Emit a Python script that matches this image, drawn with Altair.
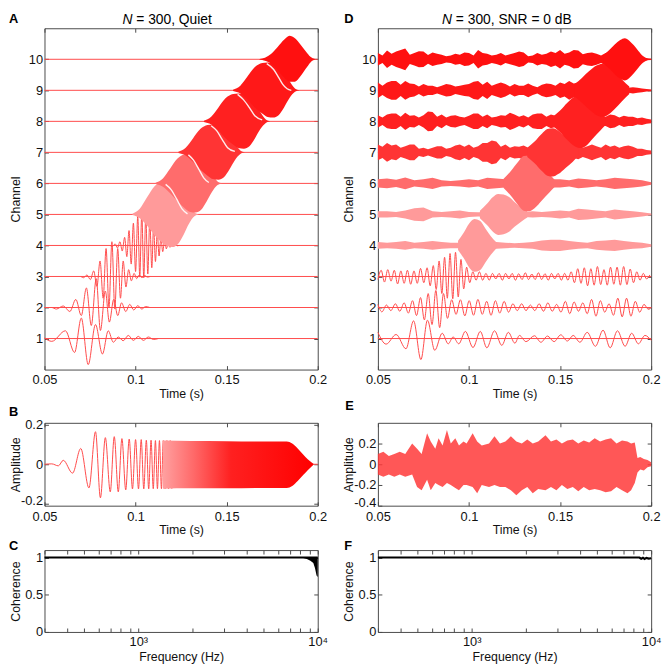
import altair as alt
import pandas as pd

FONT = "Liberation Sans"
FRAME = "#4a4a4a"
RED_LINE = "#ff4a4a"

# ------------------------------------------------------------------ ticks
CHANNELS = [1, 2, 3, 4, 5, 6, 7, 8, 9, 10]
TIME_TICKS = [0.05, 0.1, 0.15, 0.2]
FREQ_TICKS = [300, 400, 500, 600, 700, 800, 900, 1000, 2000, 3000, 4000,
              5000, 6000, 7000, 8000, 9000, 10000]
AMP_B_TICKS = [-0.2, 0, 0.2]
AMP_E_TICKS = [-0.4, -0.2, 0, 0.2]
COH_TICKS = [0, 0.5, 1]

# ------------------------------------------------------------------ panel A (quiet)
# resolved channels: extrema (time s, deviation from channel baseline)
A1_T = [0.0500, 0.0540, 0.0615, 0.0665, 0.0702, 0.0740, 0.0780, 0.0818, 0.0850, 0.0878,
        0.0905, 0.0932, 0.0960, 0.0988, 0.1015, 0.1043, 0.1070, 0.1098, 0.1125]
A1_V = [0.02, -0.09, 0.25, -0.45, 0.66, -0.84, 0.45, -0.50, 0.25, -0.12,
        0.05, -0.07, 0.10, -0.06, 0.07, -0.06, 0.05, -0.03, 0.00]
A2_T = [0.0500, 0.0540, 0.0565, 0.0603, 0.0639, 0.0672, 0.0702, 0.0730, 0.0757, 0.0784,
        0.0807, 0.0834, 0.0856, 0.0880, 0.0902, 0.0923, 0.0946, 0.0968, 0.0990, 0.1012,
        0.1034, 0.1055, 0.1078]
A2_V = [0.00, 0.00, -0.05, 0.05, -0.13, 0.26, -0.26, 0.63, -0.58, 0.93,
        -0.74, 0.53, -0.47, 0.26, -0.26, 0.15, -0.13, 0.10, -0.08, 0.06,
        -0.05, 0.03, 0.00]
A3_T = [0.0700, 0.0715, 0.0733, 0.0752, 0.0770, 0.0788, 0.0805, 0.0822, 0.0838, 0.0854,
        0.0870, 0.0886, 0.0902, 0.0917, 0.0932, 0.0947, 0.0962, 0.0977, 0.0992, 0.1006,
        0.1020, 0.1035, 0.1050, 0.1065, 0.1080]
A3_V = [0.00, -0.04, 0.05, -0.10, 0.18, -0.32, 0.50, -0.70, 0.90, -1.00,
        1.12, -1.05, 0.90, -0.70, 0.50, -0.34, 0.22, -0.14, 0.10, -0.07,
        0.05, -0.04, 0.03, -0.02, 0.00]
A4_T = [0.0860, 0.0874, 0.0888, 0.0901, 0.0914, 0.0927, 0.0940, 0.0952, 0.0964, 0.0976,
        0.0988, 0.1000, 0.1012, 0.1023, 0.1034, 0.1045, 0.1056, 0.1067, 0.1078, 0.1089,
        0.1099, 0.1109, 0.1119, 0.1129, 0.1139, 0.1149, 0.1159, 0.1169, 0.1179, 0.1189,
        0.1199, 0.1209, 0.1219, 0.1229, 0.1239]
A4_V = [0.00, -0.03, 0.05, -0.08, 0.12, -0.18, 0.26, -0.36, 0.48, -0.60,
        0.72, -0.84, 0.95, -1.02, 1.05, -1.04, 0.98, -0.92, 0.82, -0.72,
        0.62, -0.52, 0.42, -0.34, 0.26, -0.20, 0.15, -0.11, 0.08, -0.06,
        0.04, -0.03, 0.02, -0.01, 0.00]
# dense channels: envelope above (HI) and below (LO) the channel baseline
A5_T = [0.0983, 0.1023, 0.1063, 0.1103, 0.1143, 0.1173, 0.1203, 0.1233, 0.1263, 0.1293, 0.1323, 0.1348]
A5_HI = [0.02, 0.18, 0.55, 0.90, 1.07, 1.10, 1.05, 0.95, 0.72, 0.36, 0.07, 0.00]
A5_LO = [0.02, 0.12, 0.36, 0.66, 0.90, 1.02, 1.05, 0.95, 0.66, 0.30, 0.06, 0.00]
A6_T = [0.1110, 0.1150, 0.1190, 0.1230, 0.1270, 0.1300, 0.1330, 0.1360, 0.1390, 0.1420, 0.1450, 0.1475]
A6_HI = [0.02, 0.16, 0.48, 0.80, 0.94, 0.96, 0.94, 0.85, 0.64, 0.32, 0.06, 0.00]
A6_LO = [0.02, 0.11, 0.32, 0.58, 0.80, 0.92, 0.94, 0.85, 0.58, 0.27, 0.05, 0.00]
A7_T = [0.1235, 0.1275, 0.1315, 0.1355, 0.1395, 0.1425, 0.1455, 0.1485, 0.1515, 0.1545, 0.1575, 0.1600]
A7_HI = [0.02, 0.15, 0.45, 0.75, 0.88, 0.90, 0.88, 0.80, 0.60, 0.30, 0.06, 0.00]
A7_LO = [0.02, 0.10, 0.30, 0.55, 0.75, 0.86, 0.88, 0.80, 0.55, 0.25, 0.05, 0.00]
A8_T = [0.1375, 0.1415, 0.1455, 0.1495, 0.1535, 0.1565, 0.1595, 0.1625, 0.1655, 0.1685, 0.1715, 0.1740]
A8_HI = [0.02, 0.15, 0.45, 0.75, 0.88, 0.90, 0.88, 0.80, 0.60, 0.30, 0.06, 0.00]
A8_LO = [0.02, 0.10, 0.30, 0.55, 0.75, 0.86, 0.88, 0.80, 0.55, 0.25, 0.05, 0.00]
A9_T = [0.1535, 0.1575, 0.1615, 0.1655, 0.1695, 0.1725, 0.1755, 0.1785, 0.1815, 0.1845, 0.1875, 0.1900]
A9_HI = [0.02, 0.15, 0.45, 0.75, 0.88, 0.90, 0.88, 0.80, 0.60, 0.30, 0.06, 0.00]
A9_LO = [0.02, 0.10, 0.30, 0.55, 0.75, 0.86, 0.88, 0.80, 0.55, 0.25, 0.05, 0.00]
A10_T = [0.1680, 0.1710, 0.1745, 0.1780, 0.1815, 0.1845, 0.1875, 0.1905, 0.1935, 0.1960, 0.1985]
A10_HI = [0.01, 0.05, 0.18, 0.40, 0.63, 0.76, 0.68, 0.48, 0.25, 0.08, 0.01]
A10_LO = [0.01, 0.05, 0.15, 0.35, 0.58, 0.72, 0.72, 0.55, 0.30, 0.10, 0.01]
A_BAND_COLORS = ["#ff9a9a", "#ff6c6c", "#ff3434", "#ff2020", "#ff1818", "#ff1010"]
# light moire curves running through the dense packets
W5_T = [0.1165, 0.1195, 0.1225, 0.1255, 0.1285]
W5_Y = [5.97, 5.80, 5.50, 5.18, 5.02]
W6_T = [0.1290, 0.1318, 0.1346, 0.1374, 0.1402]
W6_Y = [6.92, 6.75, 6.47, 6.18, 6.03]
W7_T = [0.1415, 0.1445, 0.1475, 0.1505, 0.1545]
W7_Y = [7.86, 7.70, 7.42, 7.15, 7.03]
W8_T = [0.1560, 0.1592, 0.1624, 0.1656, 0.1695]
W8_Y = [8.87, 8.70, 8.45, 8.17, 8.05]
W9_T = [0.1720, 0.1758, 0.1786, 0.1807, 0.1832, 0.1855]
W9_Y = [9.86, 9.67, 9.41, 9.20, 9.05, 9.00]

# ------------------------------------------------------------------ panel B (quiet sum)
B_T = [0.0500, 0.0540, 0.0576, 0.0603, 0.0654, 0.0699, 0.0744, 0.0780, 0.0807, 0.0834,
       0.0861, 0.0883, 0.0905, 0.0925, 0.0946, 0.0965, 0.0983, 0.1000, 0.1016, 0.1031,
       0.1045, 0.1059, 0.1072, 0.1085, 0.1097, 0.1109, 0.1120, 0.1131, 0.1142, 0.1152,
       0.1162, 0.1172, 0.1181, 0.1190, 0.1199]
B_V = [0.000, 0.002, -0.008, 0.020, -0.045, 0.080, -0.120, 0.165, -0.170, 0.135,
       -0.140, 0.140, -0.140, 0.130, -0.130, 0.128, -0.125, 0.125, -0.125, 0.125,
       -0.125, 0.122, -0.125, 0.122, -0.124, 0.120, -0.124, 0.120, -0.124, 0.120,
       -0.124, 0.120, -0.124, 0.120, -0.124]
B_ENV_T = [0.1150, 0.1300, 0.1500, 0.1700, 0.1830, 0.1860, 0.1890, 0.1920, 0.1945, 0.1965, 0.1980]
B_ENV_HI = [0.120, 0.118, 0.117, 0.115, 0.115, 0.105, 0.080, 0.050, 0.025, 0.010, 0.000]
B_ENV_LO = [-0.124, -0.122, -0.122, -0.120, -0.120, -0.110, -0.085, -0.055, -0.030, -0.012, 0.000]
B_TAIL_T = [0.1975, 0.2000]
B_TAIL_V = [0.0, 0.0]

# ------------------------------------------------------------------ panel C (coherence quiet)
C_LINE_F = [300, 10000]
C_LINE_V = [1.0, 1.0]
C_DROP_F = [8300, 8700, 9100, 9450, 9650, 9850, 10000]
C_DROP_LO = [0.995, 0.98, 0.955, 0.925, 0.86, 0.76, 0.74]
C_DROP_HI = [1.005, 1.005, 1.005, 1.005, 1.005, 1.005, 1.005]

# ------------------------------------------------------------------ panel D (SNR 0 dB)
D1_T = [0.0500, 0.0545, 0.0600, 0.0654, 0.0696, 0.0736, 0.0772, 0.0812, 0.0853, 0.0886,
        0.0913, 0.0944, 0.0980, 0.1022, 0.1062, 0.1098, 0.1140, 0.1180, 0.1216, 0.1252,
        0.1277, 0.1313, 0.1359, 0.1395, 0.1431, 0.1467, 0.1504, 0.1540, 0.1572, 0.1609,
        0.1649, 0.1694, 0.1736, 0.1775, 0.1815, 0.1857, 0.1893, 0.1930, 0.1966, 0.2000]
D1_V = [0.20, -0.18, 0.13, -0.33, 0.57, -0.68, 0.59, -0.38, 0.17, -0.17,
        0.05, -0.17, 0.23, -0.29, 0.23, -0.30, 0.25, -0.22, 0.20, -0.15,
        0.10, -0.10, 0.09, -0.12, 0.08, -0.10, 0.12, -0.08, 0.10, -0.12,
        0.20, -0.25, 0.27, -0.30, 0.25, -0.25, 0.17, -0.17, 0.10, -0.06]
D2_T = [0.0500, 0.0522, 0.0547, 0.0571, 0.0596, 0.0620, 0.0644, 0.0667, 0.0690, 0.0712,
        0.0734, 0.0755, 0.0776, 0.0797, 0.0818, 0.0839, 0.0860, 0.0882, 0.0905, 0.0929,
        0.0953, 0.0977, 0.1001, 0.1025, 0.1049, 0.1073, 0.1097, 0.1121, 0.1145, 0.1169,
        0.1193, 0.1217, 0.1241, 0.1265, 0.1289, 0.1313, 0.1337, 0.1361, 0.1385, 0.1409,
        0.1433, 0.1457, 0.1481, 0.1505, 0.1529, 0.1553, 0.1577, 0.1601, 0.1625, 0.1649,
        0.1673, 0.1697, 0.1721, 0.1745, 0.1769, 0.1793, 0.1817, 0.1841, 0.1865, 0.1889,
        0.1913, 0.1937, 0.1961, 0.1985, 0.2000]
D2_V = [0.10, -0.14, 0.08, -0.10, 0.12, -0.12, 0.15, -0.18, 0.22, -0.26,
        0.32, -0.40, 0.45, -0.55, 0.55, -0.65, 0.45, -0.35, 0.25, -0.22,
        0.25, -0.27, 0.22, -0.25, 0.26, -0.22, 0.20, -0.25, 0.22, -0.18,
        0.20, -0.15, 0.12, -0.10, 0.12, -0.10, 0.08, -0.10, 0.12, -0.12,
        0.15, -0.12, 0.10, -0.15, 0.20, -0.20, 0.18, -0.12, 0.15, -0.20,
        0.26, -0.28, 0.22, -0.15, 0.12, -0.25, 0.30, -0.30, 0.30, -0.28,
        0.20, -0.15, 0.10, -0.06, 0.00]
D3_T = [0.0500, 0.0518, 0.0536, 0.0554, 0.0572, 0.0590, 0.0608, 0.0626, 0.0644, 0.0662,
        0.0680, 0.0698, 0.0716, 0.0734, 0.0752, 0.0770, 0.0787, 0.0804, 0.0820, 0.0836,
        0.0851, 0.0866, 0.0881, 0.0896, 0.0911, 0.0926, 0.0941, 0.0956, 0.0971, 0.0987,
        0.1004, 0.1021, 0.1039, 0.1057, 0.1075, 0.1093, 0.1111, 0.1129, 0.1147, 0.1165,
        0.1183, 0.1201, 0.1219, 0.1237, 0.1255, 0.1273, 0.1291, 0.1309, 0.1327, 0.1345,
        0.1363, 0.1381, 0.1399, 0.1417, 0.1435, 0.1453, 0.1471, 0.1489, 0.1507, 0.1525,
        0.1543, 0.1561, 0.1579, 0.1597, 0.1615, 0.1633, 0.1651, 0.1669, 0.1687, 0.1705,
        0.1723, 0.1741, 0.1759, 0.1777, 0.1795, 0.1813, 0.1831, 0.1849, 0.1867, 0.1885,
        0.1903, 0.1921, 0.1939, 0.1957, 0.1975, 0.1993]
D3_V = [-0.10, 0.20, -0.18, 0.22, -0.15, 0.20, -0.24, 0.18, -0.22, 0.20,
        -0.25, 0.18, -0.22, 0.26, -0.20, 0.28, -0.30, 0.35, -0.42, 0.50,
        -0.55, 0.62, -0.70, 0.74, -0.72, 0.78, -0.66, 0.55, -0.40, 0.30,
        -0.20, 0.15, -0.12, 0.15, -0.12, 0.10, -0.12, 0.10, -0.08, 0.10,
        -0.12, 0.10, -0.08, 0.10, -0.12, 0.09, -0.10, 0.12, -0.10, 0.08,
        -0.10, 0.12, -0.10, 0.09, -0.12, 0.10, -0.08, 0.10, -0.12, 0.10,
        -0.12, 0.15, -0.20, 0.25, -0.22, 0.28, -0.30, 0.25, -0.28, 0.32,
        -0.26, 0.22, -0.28, 0.30, -0.25, 0.30, -0.28, 0.32, -0.26, 0.24,
        -0.20, 0.15, -0.12, 0.10, -0.08, 0.05]
# noise envelope (half-height) of channels 4-6, read every 5 ms
NOISE_T = [0.050, 0.055, 0.060, 0.065, 0.070, 0.075, 0.080, 0.085, 0.090, 0.095,
           0.100, 0.105, 0.110, 0.115, 0.120, 0.125, 0.130, 0.135, 0.140, 0.145,
           0.150, 0.155, 0.160, 0.165, 0.170, 0.175, 0.180, 0.185, 0.190, 0.195, 0.200]
D4_NOISE = [0.11, 0.09, 0.11, 0.14, 0.09, 0.11, 0.14, 0.11, 0.09, 0.09,
            0.09, 0.09, 0.09, 0.11, 0.09, 0.07, 0.09, 0.11, 0.16, 0.18,
            0.18, 0.14, 0.11, 0.09, 0.14, 0.16, 0.18, 0.14, 0.11, 0.09, 0.04]
D5_NOISE = [0.10, 0.10, 0.08, 0.13, 0.20, 0.22, 0.10, 0.08, 0.10, 0.13,
            0.08, 0.07, 0.08, 0.08, 0.08, 0.08, 0.08, 0.10, 0.08, 0.10,
            0.13, 0.10, 0.18, 0.16, 0.13, 0.10, 0.16, 0.13, 0.10, 0.07, 0.03]
D6_NOISE = [0.13, 0.16, 0.12, 0.19, 0.10, 0.13, 0.18, 0.10, 0.08, 0.10,
            0.13, 0.10, 0.18, 0.16, 0.13, 0.16, 0.13, 0.13, 0.13, 0.13,
            0.13, 0.10, 0.16, 0.13, 0.10, 0.13, 0.18, 0.16, 0.13, 0.10, 0.04]
# noise envelope of channels 7-10, read every 2.5 ms
NOISE2_T = [0.0500, 0.0525, 0.0550, 0.0575, 0.0600, 0.0625, 0.0650, 0.0675, 0.0700, 0.0725,
            0.0750, 0.0775, 0.0800, 0.0825, 0.0850, 0.0875, 0.0900, 0.0925, 0.0950, 0.0975,
            0.1000, 0.1025, 0.1050, 0.1075, 0.1100, 0.1125, 0.1150, 0.1175, 0.1200, 0.1225,
            0.1250, 0.1275, 0.1300, 0.1325, 0.1350, 0.1375, 0.1400, 0.1425, 0.1450, 0.1475,
            0.1500, 0.1525, 0.1550, 0.1575, 0.1600, 0.1625, 0.1650, 0.1675, 0.1700, 0.1725,
            0.1750, 0.1775, 0.1800, 0.1825, 0.1850, 0.1875, 0.1900, 0.1925, 0.1950, 0.1975,
            0.2000]
D7_NOISE = [0.25, 0.18, 0.30, 0.22, 0.25, 0.15, 0.20, 0.25, 0.25, 0.12,
            0.15, 0.10, 0.15, 0.20, 0.20, 0.12, 0.15, 0.22, 0.25, 0.18,
            0.25, 0.15, 0.20, 0.30, 0.30, 0.38, 0.35, 0.18, 0.25, 0.15,
            0.20, 0.18, 0.22, 0.15, 0.25, 0.20, 0.15, 0.12, 0.15, 0.20,
            0.20, 0.35, 0.30, 0.18, 0.22, 0.15, 0.20, 0.25, 0.20, 0.15,
            0.25, 0.18, 0.22, 0.15, 0.20, 0.22, 0.18, 0.12, 0.12, 0.08,
            0.06]
D8_NOISE = [0.20, 0.12, 0.22, 0.25, 0.25, 0.15, 0.28, 0.18, 0.20, 0.12,
            0.20, 0.32, 0.30, 0.15, 0.22, 0.12, 0.18, 0.20, 0.15, 0.12,
            0.18, 0.25, 0.25, 0.15, 0.22, 0.12, 0.15, 0.20, 0.18, 0.28,
            0.22, 0.15, 0.20, 0.12, 0.22, 0.25, 0.25, 0.15, 0.22, 0.18,
            0.20, 0.15, 0.20, 0.18, 0.20, 0.25, 0.20, 0.12, 0.18, 0.15,
            0.15, 0.22, 0.20, 0.12, 0.18, 0.15, 0.15, 0.10, 0.12, 0.08,
            0.06]
D9_NOISE = [0.25, 0.15, 0.25, 0.30, 0.30, 0.18, 0.30, 0.22, 0.20, 0.12,
            0.20, 0.15, 0.15, 0.10, 0.15, 0.20, 0.18, 0.12, 0.15, 0.18,
            0.20, 0.28, 0.30, 0.18, 0.28, 0.15, 0.20, 0.25, 0.20, 0.12,
            0.20, 0.15, 0.15, 0.22, 0.15, 0.10, 0.18, 0.22, 0.20, 0.15,
            0.25, 0.20, 0.30, 0.22, 0.25, 0.15, 0.20, 0.15, 0.20, 0.15,
            0.20, 0.15, 0.20, 0.12, 0.20, 0.08, 0.10, 0.08, 0.06, 0.04,
            0.03]
D10_NOISE = [0.20, 0.12, 0.28, 0.18, 0.25, 0.30, 0.35, 0.15, 0.20, 0.26,
             0.25, 0.14, 0.22, 0.18, 0.15, 0.10, 0.12, 0.18, 0.15, 0.22,
             0.20, 0.12, 0.30, 0.20, 0.18, 0.12, 0.15, 0.20, 0.12, 0.16,
             0.20, 0.25, 0.22, 0.10, 0.12, 0.20, 0.15, 0.18, 0.25, 0.20,
             0.30, 0.18, 0.22, 0.30, 0.28, 0.16, 0.20, 0.22, 0.18, 0.12,
             0.20, 0.25, 0.20, 0.15, 0.15, 0.08, 0.10, 0.06, 0.05, 0.03,
             0.02]
# chirp packets in the noisy channels (time s, half-height)
D4_PK_T = [0.0940, 0.0970, 0.1000, 0.1030, 0.1060, 0.1090, 0.1120, 0.1150]
D4_PK_A = [0.15, 0.40, 0.70, 0.85, 0.80, 0.55, 0.30, 0.10]
D5_PK_T = [0.1060, 0.1100, 0.1130, 0.1160, 0.1190, 0.1220, 0.1250, 0.1290, 0.1320]
D5_PK_A = [0.12, 0.35, 0.55, 0.66, 0.64, 0.56, 0.40, 0.22, 0.10]
D6_PK_T = [0.1190, 0.1230, 0.1270, 0.1300, 0.1330, 0.1360, 0.1400, 0.1440, 0.1470]
D6_PK_A = [0.15, 0.40, 0.70, 0.88, 0.90, 0.80, 0.55, 0.30, 0.12]
D7_PK_T = [0.1320, 0.1360, 0.1400, 0.1430, 0.1460, 0.1490, 0.1530, 0.1570, 0.1600]
D7_PK_A = [0.15, 0.35, 0.60, 0.75, 0.78, 0.70, 0.50, 0.30, 0.12]
D8_PK_T = [0.1460, 0.1500, 0.1540, 0.1580, 0.1610, 0.1640, 0.1680, 0.1720, 0.1750]
D8_PK_A = [0.15, 0.35, 0.60, 0.80, 0.86, 0.80, 0.55, 0.30, 0.12]
D9_PK_T = [0.1580, 0.1620, 0.1660, 0.1700, 0.1730, 0.1760, 0.1800, 0.1840, 0.1880]
D9_PK_A = [0.20, 0.40, 0.62, 0.80, 0.85, 0.80, 0.60, 0.35, 0.12]
D10_PK_T = [0.1740, 0.1770, 0.1800, 0.1830, 0.1855, 0.1880, 0.1905, 0.1930, 0.1955, 0.1980]
D10_PK_A = [0.15, 0.30, 0.48, 0.62, 0.68, 0.60, 0.45, 0.27, 0.11, 0.03]
D_BAND_COLORS = ["#ffb0b0", "#ff9c9c", "#ff7070", "#ff2c2c", "#ff2424", "#ff2020", "#ff1c1c"]

# ------------------------------------------------------------------ panel E (noisy sum)
E_T = [0.0500, 0.0530, 0.0560, 0.0590, 0.0620, 0.0650, 0.0688, 0.0715, 0.0740, 0.0770,
       0.0790, 0.0815, 0.0833, 0.0855, 0.0879, 0.0900, 0.0925, 0.0945, 0.0970, 0.0987,
       0.1020, 0.1045, 0.1070, 0.1110, 0.1140, 0.1170, 0.1200, 0.1230, 0.1260, 0.1290,
       0.1320, 0.1350, 0.1380, 0.1420, 0.1450, 0.1480, 0.1510, 0.1540, 0.1570, 0.1600,
       0.1630, 0.1660, 0.1690, 0.1720, 0.1750, 0.1780, 0.1810, 0.1840, 0.1870, 0.1890,
       0.1910, 0.1925, 0.1940, 0.1960, 0.1980, 0.2000]
E_HI = [0.10, 0.12, 0.08, 0.10, 0.12, 0.10, 0.20, 0.15, 0.10, 0.30,
        0.22, 0.15, 0.25, 0.18, 0.33, 0.20, 0.25, 0.18, 0.22, 0.20,
        0.30, 0.22, 0.18, 0.20, 0.27, 0.20, 0.22, 0.27, 0.22, 0.20,
        0.24, 0.20, 0.22, 0.28, 0.22, 0.24, 0.20, 0.23, 0.24, 0.20,
        0.23, 0.21, 0.25, 0.22, 0.24, 0.25, 0.20, 0.23, 0.22, 0.20,
        0.21, 0.06, 0.07, 0.05, 0.04, 0.02]
E_LO = [-0.10, -0.12, -0.10, -0.12, -0.10, -0.12, -0.10, -0.22, -0.25, -0.15,
        -0.25, -0.18, -0.20, -0.22, -0.18, -0.20, -0.23, -0.25, -0.20, -0.20,
        -0.22, -0.28, -0.20, -0.22, -0.20, -0.22, -0.22, -0.25, -0.30, -0.25,
        -0.22, -0.28, -0.24, -0.25, -0.22, -0.25, -0.20, -0.24, -0.22, -0.26,
        -0.22, -0.25, -0.24, -0.25, -0.27, -0.26, -0.22, -0.25, -0.28, -0.25,
        -0.18, -0.08, -0.05, -0.06, -0.03, -0.02]

# ------------------------------------------------------------------ panel F (coherence noisy)
F_F = [300, 8600, 8800, 9000, 9200, 9400, 9700, 10000]
F_V = [1.0, 1.0, 0.985, 0.997, 0.982, 0.995, 0.985, 0.99]


# ------------------------------------------------------------------ tables
def lines_frame(series):
    rows = []
    for ch, T, V in series:
        for t, v in zip(T, V):
            rows.append({"ch": ch, "t": t, "y": ch + v})
    return pd.DataFrame(rows)


def band_frame(series):
    rows = []
    for ch, T, HI, LO in series:
        for t, hi, lo in zip(T, HI, LO):
            rows.append({"ch": ch, "t": t, "lo": ch - lo, "hi": ch + hi})
    return pd.DataFrame(rows)


def curve_frame(series):
    rows = []
    for ch, T, Y in series:
        for t, y in zip(T, Y):
            rows.append({"ch": ch, "t": t, "y": y})
    return pd.DataFrame(rows)


A_LINES = lines_frame([(1, A1_T, A1_V), (2, A2_T, A2_V), (3, A3_T, A3_V), (4, A4_T, A4_V)])
A_BANDS = band_frame([(5, A5_T, A5_HI, A5_LO), (6, A6_T, A6_HI, A6_LO),
                      (7, A7_T, A7_HI, A7_LO), (8, A8_T, A8_HI, A8_LO),
                      (9, A9_T, A9_HI, A9_LO), (10, A10_T, A10_HI, A10_LO)])
A_WHITE = curve_frame([(5, W5_T, W5_Y), (6, W6_T, W6_Y), (7, W7_T, W7_Y),
                       (8, W8_T, W8_Y), (9, W9_T, W9_Y)])
D_LINES = lines_frame([(1, D1_T, D1_V), (2, D2_T, D2_V), (3, D3_T, D3_V)])
D_NOISE = band_frame([(4, NOISE_T, D4_NOISE, D4_NOISE), (5, NOISE_T, D5_NOISE, D5_NOISE),
                      (6, NOISE_T, D6_NOISE, D6_NOISE), (7, NOISE2_T, D7_NOISE, D7_NOISE),
                      (8, NOISE2_T, D8_NOISE, D8_NOISE), (9, NOISE2_T, D9_NOISE, D9_NOISE),
                      (10, NOISE2_T, D10_NOISE, D10_NOISE)])
D_PACKETS = band_frame([(4, D4_PK_T, D4_PK_A, D4_PK_A), (5, D5_PK_T, D5_PK_A, D5_PK_A),
                        (6, D6_PK_T, D6_PK_A, D6_PK_A), (7, D7_PK_T, D7_PK_A, D7_PK_A),
                        (8, D8_PK_T, D8_PK_A, D8_PK_A), (9, D9_PK_T, D9_PK_A, D9_PK_A),
                        (10, D10_PK_T, D10_PK_A, D10_PK_A)])
BASE = pd.DataFrame({"ch": CHANNELS})

# ------------------------------------------------------------------ helpers
WA, HA = 277, 346
HB, HC = 84, 83
TX = alt.Scale(domain=[0.05, 0.2], nice=False, zero=False)
CHY = alt.Scale(domain=[0, 11], nice=False, zero=False)
BY = alt.Scale(domain=[-0.21, 0.21], nice=False, zero=False)
EY = alt.Scale(domain=[-0.4, 0.4], nice=False, zero=False)
FX = alt.Scale(type="log", domain=[300, 10000], nice=False)
CY = alt.Scale(domain=[0, 1.1], nice=False, zero=False)

MINUS_FIX = "replace(format(datum.value, '.1~f'), '\u2212', '-')"
FREQ_EXPR = "datum.value == 1000 ? '10\u00b3' : (datum.value == 10000 ? '10\u2074' : '')"


def frame(xscale, yscale, xdom, ydom, xvals, yvals, xtitle, ytitle, h,
          xfmt=None, xexpr=None, yfmt=None, yexpr=None, xpad=4, ylow=None):
    df = pd.DataFrame({"fx": list(xdom), "fy": list(ydom)})
    common = dict(domain=False, grid=False, ticks=True, tickSize=4,
                  tickColor=FRAME, tickWidth=1, offset=-4,
                  labelFlush=False, labelOverlap=False)
    bottom = dict(orient="bottom", values=xvals, title=xtitle,
                  labelPadding=xpad, titlePadding=1.5 - (xpad - 4), **common)
    if xfmt:
        bottom["format"] = xfmt
    if xexpr:
        bottom["labelExpr"] = xexpr
    left = dict(orient="left", values=yvals, title=ytitle, labelPadding=2,
                titleX=-33.5, titleY=h / 2, titleAngle=270,
                titleAlign="center", titleBaseline="middle", **common)
    if yfmt:
        left["format"] = yfmt
    if yexpr:
        left["labelExpr"] = yexpr
    if ylow is not None:
        # lift the lowest amplitude label a little so it clears the time labels
        left["labelOffset"] = {"condition": {"test": f"datum.value < {ylow}", "value": -3},
                               "value": 0}
    l1 = alt.Chart(df).mark_point(opacity=0).encode(
        x=alt.X("fx:Q", scale=xscale, axis=alt.Axis(**bottom)),
        y=alt.Y("fy:Q", scale=yscale, axis=alt.Axis(**left)))
    l2 = alt.Chart(df).mark_point(opacity=0).encode(
        x=alt.X("fx:Q", scale=xscale,
                axis=alt.Axis(orient="top", values=xvals, labels=False, title=None, **common)),
        y=alt.Y("fy:Q", scale=yscale,
                axis=alt.Axis(orient="right", values=yvals, labels=False, title=None, **common)))
    return [l1, l2]


def text(txt, x, y, size, weight="normal", style="normal"):
    return alt.Chart(pd.DataFrame({"k": [0]})).mark_text(
        text=txt, align="left", baseline="top", font=FONT, fontSize=size,
        fontWeight=weight, fontStyle=style, color="#000").encode(
        x=alt.value(x), y=alt.value(y))


def xq(field, scale):
    return alt.X(f"{field}:Q", scale=scale, axis=None)


def yq(field, scale):
    return alt.Y(f"{field}:Q", scale=scale, axis=None)


def panel(layers, w, h):
    return alt.layer(*layers).resolve_axis(x="independent", y="independent").properties(
        width=w, height=h)


# ------------------------------------------------------------------ panel A
baseA = alt.Chart(BASE).mark_rule(color=RED_LINE, strokeWidth=1).encode(y=yq("ch", CHY))
bandsA = alt.Chart(A_BANDS).mark_area(interpolate="monotone").encode(
    x=xq("t", TX), y=yq("lo", CHY), y2="hi:Q",
    color=alt.Color("ch:O", scale=alt.Scale(domain=[5, 6, 7, 8, 9, 10], range=A_BAND_COLORS),
                    legend=None))
linesA = alt.Chart(A_LINES).mark_line(interpolate="monotone", color=RED_LINE, strokeWidth=1).encode(
    x=xq("t", TX), y=yq("y", CHY), detail="ch:N")
whiteA = alt.Chart(A_WHITE).mark_line(interpolate="monotone", color="#ffffff", strokeWidth=1.4,
                                      opacity=0.9).encode(
    x=xq("t", TX), y=yq("y", CHY), detail="ch:N")
chartA = panel(frame(TX, CHY, [0.05, 0.2], [0, 11], TIME_TICKS, CHANNELS, "Time (s)", "Channel",
                     HA, xfmt=".2~f", yfmt="d")
               + [baseA, linesA, bandsA, whiteA,
                  text("A", -36, -15, 13, weight="bold"),
                  text("N", 79, -15, 14, style="italic"),
                  text("= 300, Quiet", 93, -15, 14)], WA, HA)

# ------------------------------------------------------------------ panel D
baseD = alt.Chart(BASE).mark_rule(color=RED_LINE, strokeWidth=1).encode(y=yq("ch", CHY))
dcol = alt.Scale(domain=[4, 5, 6, 7, 8, 9, 10], range=D_BAND_COLORS)
noiseD = alt.Chart(D_NOISE).mark_area(interpolate="linear").encode(
    x=xq("t", TX), y=yq("lo", CHY), y2="hi:Q", color=alt.Color("ch:O", scale=dcol, legend=None))
packD = alt.Chart(D_PACKETS).mark_area(interpolate="monotone").encode(
    x=xq("t", TX), y=yq("lo", CHY), y2="hi:Q", color=alt.Color("ch:O", scale=dcol, legend=None))
linesD = alt.Chart(D_LINES).mark_line(interpolate="monotone", color=RED_LINE, strokeWidth=1).encode(
    x=xq("t", TX), y=yq("y", CHY), detail="ch:N")
chartD = panel(frame(TX, CHY, [0.05, 0.2], [0, 11], TIME_TICKS, CHANNELS, "Time (s)", "Channel",
                     HA, xfmt=".2~f", yfmt="d")
               + [baseD, linesD, noiseD, packD,
                  text("D", -34, -15, 13, weight="bold"),
                  text("N", 65, -15, 14, style="italic"),
                  text("= 300, SNR = 0 dB", 79, -15, 14)], WA, HA)

# ------------------------------------------------------------------ panel B
grad = alt.LinearGradient(gradient="linear", x1=0, x2=1, y1=0, y2=0, stops=[
    alt.GradientStop(color="#ffa0a0", offset=0),
    alt.GradientStop(color="#ff6a6a", offset=0.2),
    alt.GradientStop(color="#ff2020", offset=0.45),
    alt.GradientStop(color="#ff0000", offset=1)])
B_LINE = pd.DataFrame({"t": B_T, "v": B_V})
B_ENV = pd.DataFrame({"t": B_ENV_T, "hi": B_ENV_HI, "lo": B_ENV_LO})
B_TAIL = pd.DataFrame({"t": B_TAIL_T, "v": B_TAIL_V})
lineB = alt.Chart(B_LINE).mark_line(interpolate="monotone", color=RED_LINE, strokeWidth=1).encode(
    x=xq("t", TX), y=yq("v", BY))
envB = alt.Chart(B_ENV).mark_area(interpolate="monotone", color=grad).encode(
    x=xq("t", TX), y=yq("lo", BY), y2="hi:Q")
tailB = alt.Chart(B_TAIL).mark_line(color=RED_LINE, strokeWidth=1).encode(
    x=xq("t", TX), y=yq("v", BY))
chartB = panel(frame(TX, BY, [0.05, 0.2], [-0.21, 0.21], TIME_TICKS, AMP_B_TICKS, "Time (s)",
                     "Amplitude", HB, xfmt=".2~f", yexpr=MINUS_FIX, xpad=5, ylow=-0.1)
               + [lineB, envB, tailB, text("B", -36, -17, 13, weight="bold")], WA, HB)

# ------------------------------------------------------------------ panel E
E_ENV = pd.DataFrame({"t": E_T, "hi": E_HI, "lo": E_LO})
envE = alt.Chart(E_ENV).mark_area(interpolate="linear", color="#ff3a3a", opacity=0.85).encode(
    x=xq("t", TX), y=yq("lo", EY), y2="hi:Q")
chartE = panel(frame(TX, EY, [0.05, 0.2], [-0.4, 0.4], TIME_TICKS, AMP_E_TICKS, "Time (s)",
                     "Amplitude", HB, xfmt=".2~f", yexpr=MINUS_FIX, xpad=5, ylow=-0.3)
               + [envE, text("E", -33, -23, 13, weight="bold")], WA, HB)

# ------------------------------------------------------------------ panel C
C_LINE = pd.DataFrame({"f": C_LINE_F, "v": C_LINE_V})
C_DROP = pd.DataFrame({"f": C_DROP_F, "lo": C_DROP_LO, "hi": C_DROP_HI})
lineC = alt.Chart(C_LINE).mark_line(color="#000", strokeWidth=2.2).encode(
    x=xq("f", FX), y=yq("v", CY))
dropC = alt.Chart(C_DROP).mark_area(color="#000").encode(
    x=xq("f", FX), y=yq("lo", CY), y2="hi:Q")
chartC = panel(frame(FX, CY, [300, 10000], [0, 1.1], FREQ_TICKS, COH_TICKS, "Frequency (Hz)",
                     "Coherence", HC, xexpr=FREQ_EXPR, yfmt=".1~f")
               + [lineC, dropC, text("C", -36, -10, 13, weight="bold")], WA, HC)

# ------------------------------------------------------------------ panel F
F_LINE = pd.DataFrame({"f": F_F, "v": F_V})
lineF = alt.Chart(F_LINE).mark_line(color="#000", strokeWidth=2.2).encode(
    x=xq("f", FX), y=yq("v", CY))
chartF = panel(frame(FX, CY, [300, 10000], [0, 1.1], FREQ_TICKS, COH_TICKS, "Frequency (Hz)",
                     "Coherence", HC, xexpr=FREQ_EXPR, yfmt=".1~f")
               + [lineF, text("F", -34, -10, 13, weight="bold")], WA, HC)


def spacer(h):
    return alt.Chart(pd.DataFrame({"k": [0]})).mark_point(opacity=0).encode(
        x=alt.value(0), y=alt.value(0)).properties(
        width=WA, height=h, view=alt.ViewBackground(strokeOpacity=0))


chart = alt.ConcatChart(
    concat=[chartA, chartD, spacer(54), spacer(54), chartB, chartE,
            spacer(45), spacer(45), chartC, chartF],
    columns=2, spacing={"row": 0, "column": 61}, bounds="flush",
).properties(padding=0, background="white").configure_axis(
    labelFont=FONT, labelFontSize=13, labelColor="#111",
    titleFont=FONT, titleFontSize=12.5, titleFontWeight="normal", titleColor="#111",
).configure_view(stroke=FRAME, strokeWidth=1)

chart.save("out.html", embed_options={"renderer": "svg", "actions": False})
